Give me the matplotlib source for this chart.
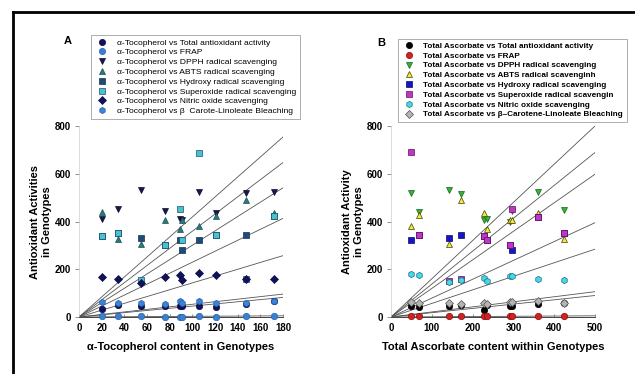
import matplotlib.pyplot as plt
import matplotlib.lines as mlines
import numpy as np

plt.rcParams['font.family'] = ['Liberation Sans', 'DejaVu Sans']

# panel A: alpha-tocopherol content (x) vs activities
toco = [20, 34, 55, 76, 89, 91, 106, 121, 147, 172]
a_taa = [32, 50, 47, 47, 47, 45, 47, 43, 53, 65]
a_frap = [3, 4, 3, 2, 2, 2, 3, 2, 3, 3]
a_dpph = [410, 452, 530, 445, 410, 405, 525, 435, 518, 525]
a_abts = [438, 325, 306, 406, 368, 405, 382, 423, 492, 434]
a_hydroxy = [341, 350, 331, 300, 323, 281, 322, 345, 345, 423]
a_superox = [341, 350, 153, 302, 452, 323, 688, 345, 160, 423]
a_nitric = [169, 158, 144, 169, 176, 155, 183, 176, 158, 158]
a_bcar = [63, 60, 57, 54, 65, 57, 65, 60, 57, 65]
a_fit_end = [754, 647, 541, 413, 257, 96, 82, 5]   # regression lines, value at x=180

# panel B: total ascorbate content (x) vs activities
asc = [49, 69, 141, 171, 227, 235, 292, 296, 361, 424]
b_taa = [47, 42, 45, 50, 31, 50, 45, 45, 55, 58]
b_frap = [3, 3, 3, 3, 3, 3, 3, 3, 3, 3]
b_dpph = [520, 438, 530, 515, 405, 410, 400, 445, 525, 450]
b_abts = [382, 427, 306, 492, 435, 367, 405, 405, 435, 325]
b_hydroxy = [323, 345, 330, 345, 340, 322, 300, 281, 420, 350]
b_superox = [690, 345, 150, 160, 340, 322, 300, 452, 420, 350]
b_nitric = [180, 175, 145, 155, 165, 150, 170, 170, 158, 155]
b_bcar = [62, 60, 58, 55, 60, 55, 62, 62, 65, 60]
b_fit_end = [800, 689, 598, 395, 284, 106, 90, 5]   # value at x=500

a_labels = ['\u03b1-Tocopherol vs Total antioxidant activity',
            '\u03b1-Tocopherol vs FRAP',
            '\u03b1-Tocopherol vs DPPH radical scavenging',
            '\u03b1-Tocopherol vs ABTS radical scavenging',
            '\u03b1-Tocopherol vs Hydroxy radical scavenging',
            '\u03b1-Tocopherol vs Superoxide radical scavenging',
            '\u03b1-Tocopherol vs Nitric oxide scavenging',
            '\u03b1-Tocopherol vs \u03b2  Carote-Linoleate Bleaching']
b_labels = ['Total Ascorbate vs Total antioxidant activity',
            'Total Ascorbate vs FRAP',
            'Total Ascorbate vs DPPH radical scavenging',
            'Total Ascorbate vs ABTS radical scavenginh',
            'Total Ascorbate vs Hydroxy radical scavenging',
            'Total Ascorbate vs Superoxide radical scavengin',
            'Total Ascorbate vs Nitric oxide scavenging',
            'Total Ascorbate vs \u03b2\u2013Carotene-Linoleate Bleaching']

a_style = [('o', '#12125c', '#0a0a40'), ('o', '#3a80d2', '#2a60a8'),
           ('v', '#141a4e', '#0a0a30'), ('^', '#2a7a7a', '#1a5050'),
           ('s', '#1f4a7a', '#10304e'), ('s', '#48c4c8', '#1f4a7a'),
           ('D', '#12125c', '#0a0a40'), ('h', '#3a82da', '#2a60a8')]
b_style = [('o', '#000000', '#000000'), ('o', '#d42020', '#801010'),
           ('v', '#34b434', '#1a601a'), ('^', '#f2ea40', '#404000'),
           ('s', '#1414c8', '#08086a'), ('s', '#c234c4', '#601060'),
           ('h', '#44d8e8', '#207080'), ('D', '#b4b4b4', '#555555')]

fig = plt.figure(figsize=[6.35, 3.74], dpi=100)
fs = 7

def panel(rect, x, series, styles, fit_end, xmax, xticks):
    ax = fig.add_axes(rect)
    xs = np.array([0, xmax])
    for e in fit_end:
        ax.plot(xs, xs * e / xmax, color='#555555', linewidth=0.6, zorder=1)
    for ys, (m, fc, ec) in zip(series, styles):
        ms = 4.2 if m in 'vD^' else 4.6
        ax.plot(x, ys, linestyle='none', marker=m, markersize=ms,
                markerfacecolor=fc, markeredgecolor=ec, markeredgewidth=0.5,
                clip_on=False, zorder=3)
    ax.set_xlim(0, xmax)
    ax.set_ylim(0, 800)
    ax.set_xticks(xticks)
    ax.set_yticks([0, 200, 400, 600, 800])
    ax.spines['top'].set_visible(False)
    ax.spines['right'].set_visible(False)
    ax.spines['left'].set_color('#cccccc')
    ax.spines['left'].set_linewidth(0.5)
    ax.spines['bottom'].set_color('#444444')
    ax.spines['bottom'].set_linewidth(0.7)
    ax.tick_params(axis='y', direction='out', length=3, width=0.5,
                   color='#666666', labelsize=fs, pad=3)
    ax.tick_params(axis='x', direction='in', length=2.5, width=0.5,
                   color='#666666', labelsize=fs, pad=4)
    for t in ax.get_xticklabels() + ax.get_yticklabels():
        t.set_fontweight('bold')
    return ax

axA = panel([0.1244, 0.1524, 0.3213, 0.5107], toco,
            [a_taa, a_frap, a_dpph, a_abts, a_hydroxy, a_superox, a_nitric, a_bcar],
            a_style, a_fit_end, 180, range(0, 181, 20))
axB = panel([0.6157, 0.1524, 0.3213, 0.5107], asc,
            [b_taa, b_frap, b_dpph, b_abts, b_hydroxy, b_superox, b_nitric, b_bcar],
            b_style, b_fit_end, 500, range(0, 501, 100))

axA.set_xlabel('\u03b1-Tocopherol content in Genotypes', fontsize=8,
               fontweight='bold', labelpad=7)
axB.set_xlabel('Total Ascorbate content within Genotypes', fontsize=8,
               fontweight='bold', labelpad=7)
axA.set_ylabel('Antioxidant Activities\nin Genotypes', fontsize=8,
               fontweight='bold', labelpad=2)
axB.set_ylabel('Antioxidant Activity\nin Genotypes', fontsize=8,
               fontweight='bold', labelpad=2)

def handles(styles):
    h = []
    for m, fc, ec in styles:
        h.append(mlines.Line2D([], [], linestyle='none', marker=m, markersize=4.5,
                               markerfacecolor=fc, markeredgecolor=ec,
                               markeredgewidth=0.5))
    return h

legA = fig.legend(handles(a_style), a_labels, loc='upper left',
                  bbox_to_anchor=(0.137, 0.918), fontsize=6.1, frameon=True,
                  fancybox=False, edgecolor='#888888', labelspacing=0.22,
                  handletextpad=1.0, borderpad=0.45, handlelength=1.6)
legA.get_frame().set_linewidth(0.6)
legB = fig.legend(handles(b_style), b_labels, loc='upper left',
                  bbox_to_anchor=(0.621, 0.908), frameon=True,
                  fancybox=False, edgecolor='#888888', labelspacing=0.25,
                  handletextpad=1.0, borderpad=0.45, handlelength=1.6,
                  prop={'weight': 'bold', 'size': 5.9})
legB.get_frame().set_linewidth(0.6)

fig.text(68 / 635, 1 - 41 / 374, 'A', fontsize=8, fontweight='bold',
         ha='center', va='center')
fig.text(381 / 635, 1 - 43 / 374, 'B', fontsize=8, fontweight='bold',
         ha='center', va='center')

# outer frame (top and left edges)
fig.add_artist(mlines.Line2D([13 / 635, 1], [1 - 12 / 374, 1 - 12 / 374],
                             color='black', linewidth=2, transform=fig.transFigure))
fig.add_artist(mlines.Line2D([13 / 635, 13 / 635], [0, 1 - 12 / 374],
                             color='black', linewidth=2, transform=fig.transFigure))

fig.savefig('out.png', dpi=100)
